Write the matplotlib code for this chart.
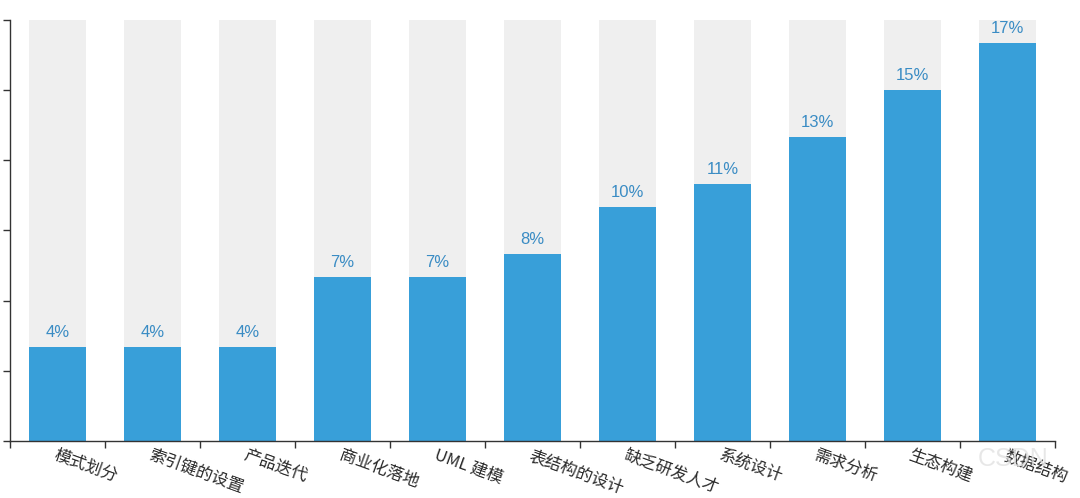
import matplotlib
matplotlib.use("Agg")
import matplotlib.pyplot as plt
import numpy as np

plt.rcParams['font.family'] = ['Noto Sans CJK SC', 'DejaVu Sans']

categories = ['模式划分', '索引键的设置', '产品迭代', '商业化落地', 'UML 建模', '表结构的设计',
              '缺乏研发人才', '系统设计', '需求分析', '生态构建', '数据结构']
values = [4, 4, 4, 7, 7, 8, 10, 11, 13, 15, 17]
labels = ['4%', '4%', '4%', '7%', '7%', '8%', '10%', '11%', '13%', '15%', '17%']
y_max = 18

fig = plt.figure(figsize=(10.8, 4.98), dpi=100)
ax = fig.add_axes([0.0093, 0.1145, 0.9676, 0.8455])

x = np.arange(len(categories))
ax.bar(x, [y_max] * len(x), width=0.6, color='#efefef', zorder=1)
ax.bar(x, values, width=0.6, color='#389fd9', zorder=2)

for xi, v, lab in zip(x, values, labels):
    ax.annotate(lab, (xi, v), xytext=(0, 5), textcoords='offset points',
                ha='center', va='bottom', fontsize=12, color='#3a8cc4',
                family=['Liberation Sans'], zorder=3)

ax.set_xlim(-0.5, len(x) - 0.5)
ax.set_ylim(0, y_max)

# ticks at band edges, labels at band centres
ax.set_xticks(np.arange(len(x) + 1) - 0.5)
ax.set_xticklabels([])
ax.tick_params(axis='x', length=5, width=1, color='#333333')
for xi, cat in zip(x, categories):
    ax.text(xi, -0.25, cat, rotation=-20, rotation_mode='anchor',
            ha='left', va='top', fontsize=12, color='#2a2a2a')

ax.set_yticks(np.arange(0, y_max + 1, 3))
ax.set_yticklabels([])
ax.tick_params(axis='y', length=5, width=1, color='#333333')

for s in ['top', 'right']:
    ax.spines[s].set_visible(False)
for s in ['left', 'bottom']:
    ax.spines[s].set_color('#333333')
    ax.spines[s].set_linewidth(1)

# faint watermark
fig.text(0.905, 0.065, 'CSDN', fontsize=18, color='#e2e2e2', alpha=0.8,
         family=['Liberation Sans'])

fig.savefig('out.png', dpi=100)
